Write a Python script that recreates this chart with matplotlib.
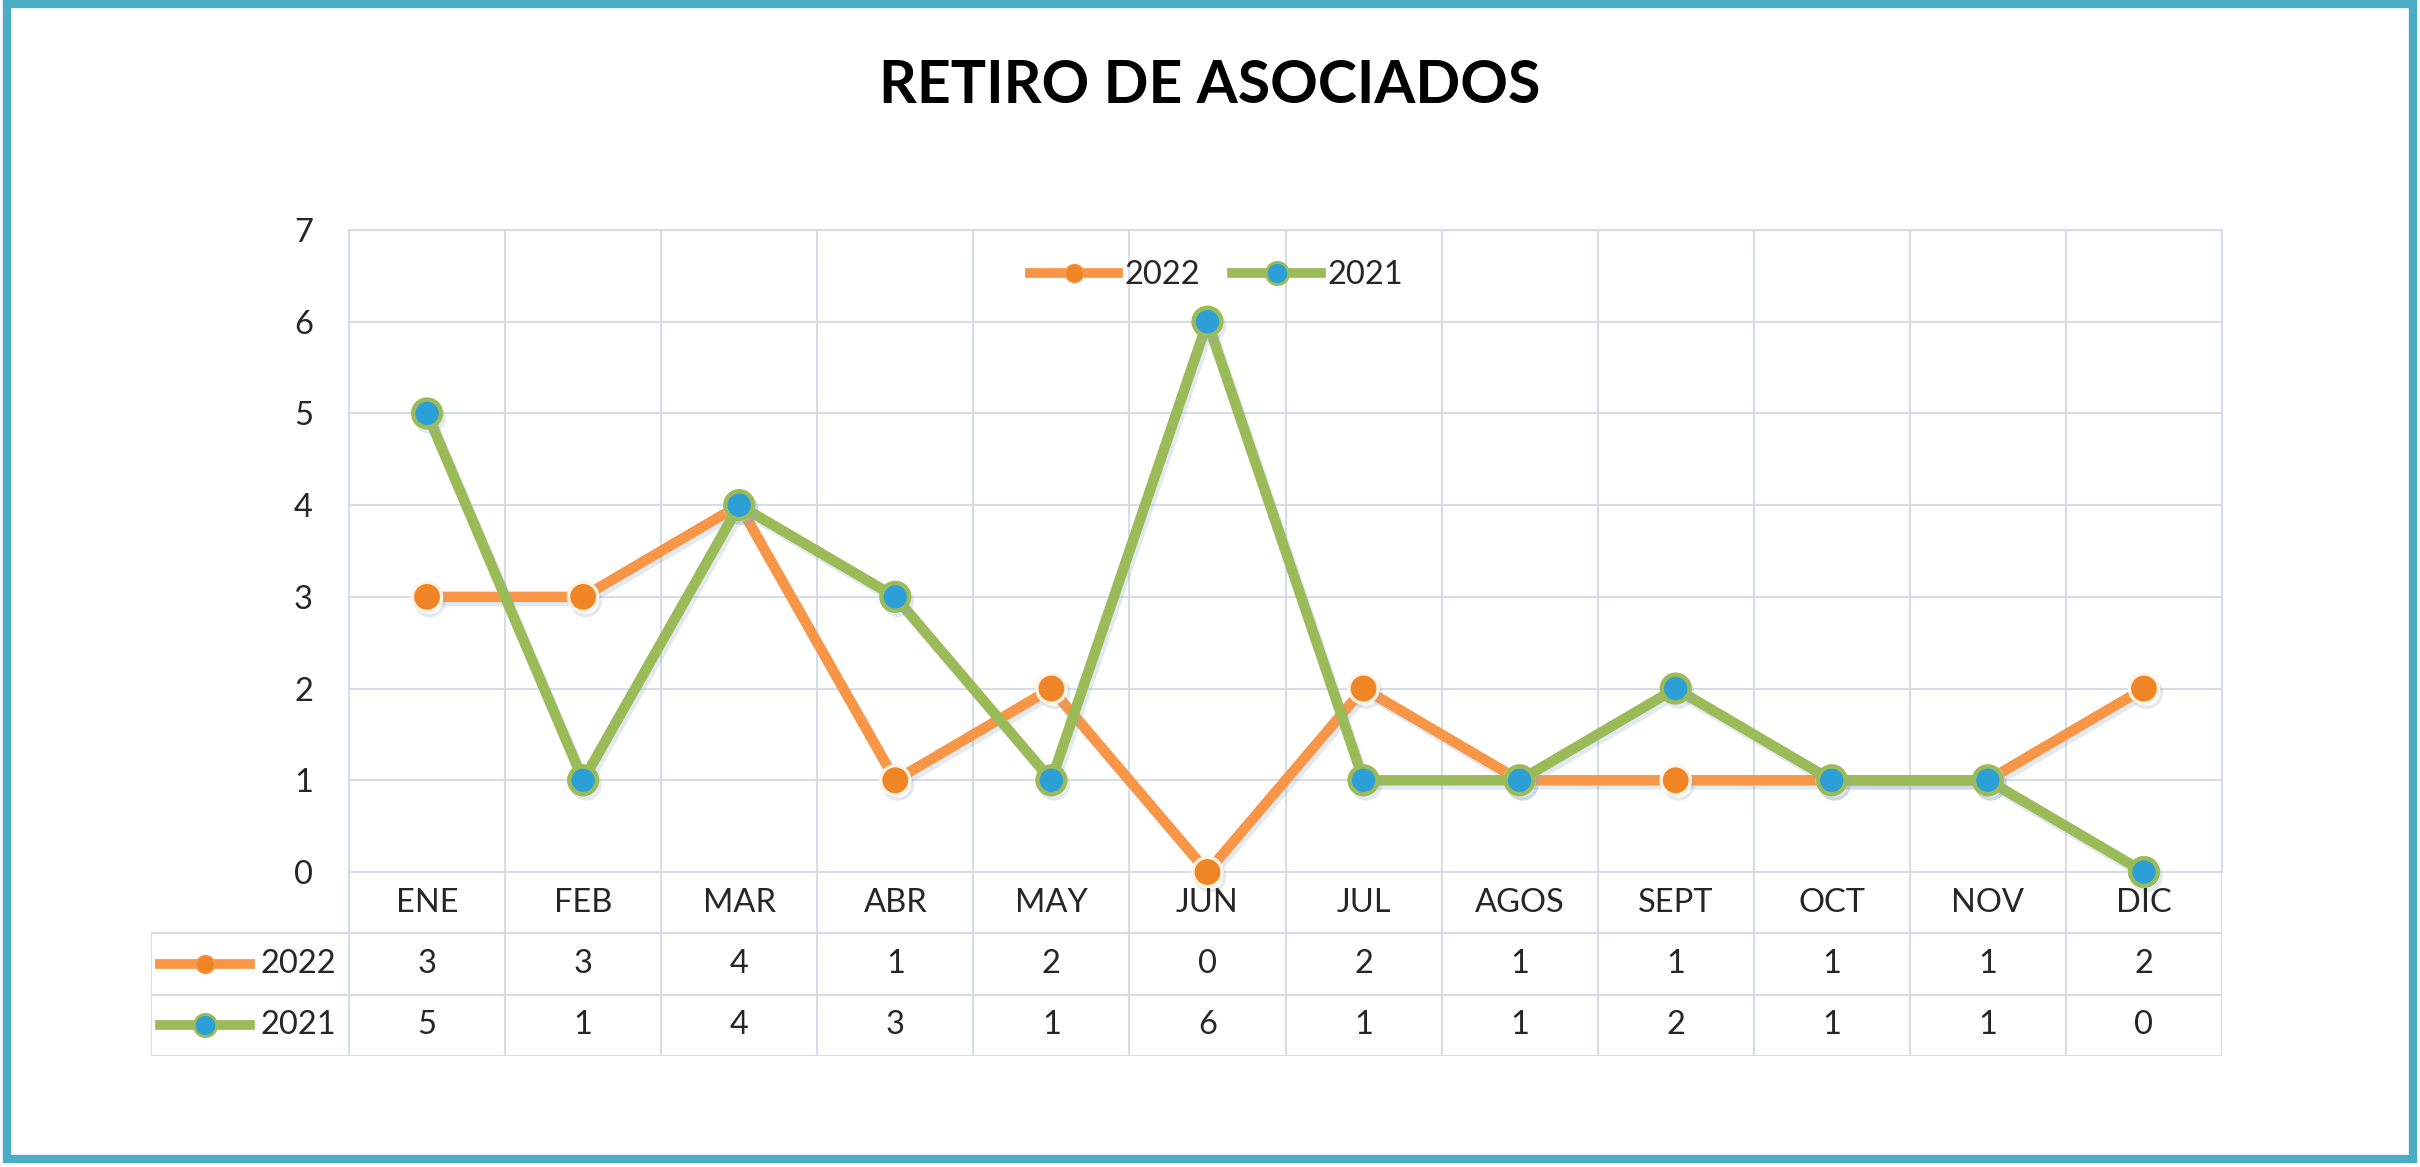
import numpy as np
import matplotlib
matplotlib.use("Agg")
import matplotlib.pyplot as plt
import matplotlib.patheffects as pe
from matplotlib.lines import Line2D
from matplotlib.patches import Rectangle

months = ['ENE', 'FEB', 'MAR', 'ABR', 'MAY', 'JUN', 'JUL', 'AGOS', 'SEPT', 'OCT', 'NOV', 'DIC']
series_names = ['2022', '2021']
values_2022 = [3, 3, 4, 1, 2, 0, 2, 1, 1, 1, 1, 2]
values_2021 = [5, 1, 4, 3, 1, 6, 1, 1, 2, 1, 1, 0]
y_ticks = [0, 1, 2, 3, 4, 5, 6, 7]

plt.rcParams['font.family'] = ['Lato', 'DejaVu Sans']

W, H = 2420, 1167
orange = '#F79646'
orange_dot = '#F08526'
green = '#9BBB59'
blue_dot = '#2B9FD6'
grid_col = '#D5DDE8'
text_col = '#262626'
fs = 23.5

fig = plt.figure(figsize=(W / 100, H / 100), dpi=100)

# outer teal frame
fig.patches.append(Rectangle((7 / W, 8 / H), (2413 - 7) / W, (1159 - 4) / H,
                             transform=fig.transFigure, fill=False,
                             edgecolor='#4BACC6', linewidth=6))

# pixel layout of the plot area and data table
px_left, px_right = 349, 2222
px_top, px_zero = 230, 872
px_table_left, px_table_bottom = 151, 1056

def fx(px):
    return px / W

def fy(py):
    return 1 - py / H

fig.text(0.5, fy(86), 'RETIRO DE ASOCIADOS', fontsize=42.5, fontweight='bold',
         color='black', ha='center', va='center')

ax = fig.add_axes([fx(px_left), fy(px_zero), fx(px_right) - fx(px_left), fy(px_top) - fy(px_zero)])
x = np.arange(len(months))
ax.set_xlim(-0.5, len(months) - 0.5)
ax.set_ylim(0, 7)
ax.set_yticks(y_ticks)
ax.set_xticks([])
ax.set_xticks(np.arange(-0.5, len(months), 1), minor=True)
ax.tick_params(axis='x', which='both', length=0, labelbottom=False)
ax.tick_params(axis='y', length=0, pad=26, labelsize=fs, labelcolor=text_col)
ax.grid(True, which='major', axis='y', color=grid_col, linewidth=1.5)
ax.grid(True, which='minor', axis='x', color=grid_col, linewidth=1.5)
for s in ax.spines.values():
    s.set_color(grid_col)
    s.set_linewidth(1.5)

shadow = [pe.SimpleLineShadow(offset=(2, -3), shadow_color='#8FA8C8', alpha=0.25), pe.Normal()]

ax.plot(x, values_2022, color=orange, linewidth=7.5, marker='o', markersize=21,
        markerfacecolor=orange_dot, markeredgecolor='#FFF3E6', markeredgewidth=2.4,
        clip_on=False, zorder=3, path_effects=shadow)
ax.plot(x, values_2021, color=green, linewidth=7.5, marker='o', markersize=20,
        markerfacecolor=blue_dot, markeredgecolor=green, markeredgewidth=3.2,
        clip_on=False, zorder=4, path_effects=shadow)

h2022 = Line2D([], [], color=orange, linewidth=7, marker='o', markersize=13,
               markerfacecolor=orange_dot, markeredgecolor=orange, markeredgewidth=1)
h2021 = Line2D([], [], color=green, linewidth=7, marker='o', markersize=16,
               markerfacecolor=blue_dot, markeredgecolor=green, markeredgewidth=2)
ax.legend([h2022, h2021], series_names, loc='center', bbox_to_anchor=(0.463, 0.93),
          ncol=2, frameon=False, fontsize=fs, handlelength=2.7, handletextpad=0.2,
          columnspacing=1.0, labelcolor=text_col)

# data table under the plot
tax = fig.add_axes([fx(px_table_left), fy(px_table_bottom),
                    fx(px_right) - fx(px_table_left), fy(px_zero) - fy(px_table_bottom)])
unit = len(months) / (px_right - px_left)

def dx(px):
    return -0.5 - (px_left - px) * unit

tax.set_xlim(dx(px_table_left), len(months) - 0.5)
tax.set_ylim(3, 0)
tax.axis('off')

lw = 1.5
for b in np.arange(-0.5, len(months), 1):
    tax.plot([b, b], [0, 3], color=grid_col, linewidth=lw)
tax.plot([dx(px_table_left), dx(px_table_left)], [1, 3], color=grid_col, linewidth=lw)
for r in [1, 2, 3]:
    tax.plot([dx(px_table_left), len(months) - 0.5], [r, r], color=grid_col, linewidth=lw)

for i, m in enumerate(months):
    tax.text(i, 0.5, m, ha='center', va='center', fontsize=fs, color=text_col)
    tax.text(i, 1.5, str(values_2022[i]), ha='center', va='center', fontsize=fs, color=text_col)
    tax.text(i, 2.5, str(values_2021[i]), ha='center', va='center', fontsize=fs, color=text_col)

key_x = [dx(160), dx(250)]
key_mid = (key_x[0] + key_x[1]) / 2
tax.plot(key_x, [1.5, 1.5], color=orange, linewidth=7)
tax.plot([key_mid], [1.5], marker='o', markersize=13, color=orange_dot,
         markeredgecolor=orange, markeredgewidth=1)
tax.plot(key_x, [2.5, 2.5], color=green, linewidth=7)
tax.plot([key_mid], [2.5], marker='o', markersize=16, color=blue_dot,
         markeredgecolor=green, markeredgewidth=2)
tax.text(dx(336), 1.5, series_names[0], ha='right', va='center', fontsize=fs, color=text_col)
tax.text(dx(336), 2.5, series_names[1], ha='right', va='center', fontsize=fs, color=text_col)

fig.savefig('out.png', dpi=100, facecolor='white')
